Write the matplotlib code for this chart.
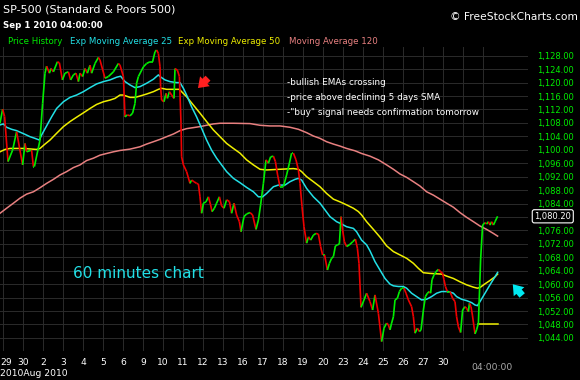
import matplotlib.pyplot as plt
import numpy as np
from matplotlib.collections import LineCollection
from matplotlib.transforms import ScaledTranslation

# hourly S&P 500, x = trading day index (0 = Jul 29)
price_day = [-0.15, -0.02, 0.08, 0.25, 0.48, 0.68, 0.98, 1.10, 1.18, 1.43, 1.52, 1.57, 1.85, 1.98,
             2.10, 2.18, 2.32, 2.40, 2.52, 2.72, 2.82, 2.97, 3.10, 3.27, 3.38, 3.52, 3.65, 3.77,
             3.85, 3.98, 4.10, 4.22, 4.35, 4.43, 4.60, 4.77, 4.85, 5.10, 5.27, 5.52, 5.77, 5.85,
             6.02, 6.10, 6.22, 6.35, 6.48, 6.60, 6.68, 6.77, 7.02, 7.18, 7.35, 7.48, 7.60, 7.68,
             7.77, 7.85, 7.88, 7.93, 8.05, 8.15, 8.22, 8.32, 8.43, 8.55, 8.60, 8.72, 8.82, 8.90,
             8.93, 9.02, 9.18, 9.35, 9.43, 9.55, 9.68, 9.77, 9.85, 9.93, 10.02, 10.15, 10.27,
             10.38, 10.45, 10.57, 10.68, 10.82, 10.93, 11.05, 11.18, 11.32, 11.43, 11.55, 11.68,
             11.82, 11.90, 12.05, 12.18, 12.35, 12.48, 12.65, 12.77, 12.88, 13.02, 13.15, 13.27,
             13.38, 13.52, 13.62, 13.73, 13.85, 14.02, 14.18, 14.32, 14.43, 14.52, 14.65, 14.77,
             14.85, 14.95, 15.05, 15.18, 15.28, 15.38, 15.52, 15.65, 15.77, 15.88, 15.98, 16.08,
             16.22, 16.32, 16.43, 16.52, 16.62, 16.73, 16.82, 16.90, 16.98, 17.07, 17.18, 17.32,
             17.48, 17.62, 17.72, 17.80, 17.90, 18.05, 18.18, 18.35, 18.48, 18.60, 18.77, 18.93,
             19.05, 19.18, 19.27, 19.35, 19.43, 19.52, 19.60, 19.72, 19.82, 19.93, 20.05, 20.15,
             20.27, 20.43, 20.52, 20.60, 20.72, 20.82, 20.90, 21.02, 21.12, 21.22, 21.32, 21.38,
             21.45, 21.55, 21.65, 21.77, 21.88, 21.98, 22.05, 22.12, 22.22, 22.35, 22.48, 22.60,
             22.68, 22.77, 22.88, 22.98, 23.10, 23.18, 23.27, 23.32, 23.40, 23.47, 23.60, 23.68,
             23.77, 23.88, 23.98, 24.10, 24.18, 24.27, 24.35, 24.43, 24.52, 24.60, 24.73]
price = [1107.9, 1112.1, 1109.9, 1096.5, 1099.9, 1105.4, 1095.5, 1101.9, 1099.4, 1099.9, 1095.0, 1095.0, 1102.9, 1113.8,
         1122.8, 1124.9, 1122.8, 1124.2, 1123.2, 1126.2, 1125.9, 1120.8, 1122.8, 1123.2, 1120.8, 1122.3, 1122.8, 1120.3,
         1122.8, 1121.8, 1124.2, 1122.8, 1125.2, 1122.8, 1125.7, 1127.5, 1126.7, 1121.3, 1121.8, 1123.2, 1125.7, 1125.2,
         1121.8, 1109.8, 1110.4, 1110.1, 1110.9, 1113.8, 1119.8, 1121.8, 1124.7, 1125.7, 1126.2, 1126.2, 1129.2, 1129.7,
         1128.7, 1124.7, 1118.8, 1114.8, 1114.3, 1116.8, 1115.3, 1117.3, 1116.3, 1115.3, 1124.2, 1123.7, 1121.8, 1107.9,
         1097.9, 1095.5, 1093.5, 1090.0, 1091.0, 1090.5, 1090.0, 1089.8, 1086.0, 1081.1, 1084.1, 1084.5, 1086.0,
         1083.6, 1081.6, 1082.6, 1084.1, 1086.0, 1083.3, 1082.6, 1085.1, 1084.6, 1081.1, 1084.1, 1080.6,
         1078.6, 1075.6, 1080.1, 1080.9, 1081.3, 1080.6, 1076.3, 1079.1, 1083.6, 1090.0, 1097.0, 1096.0,
         1097.9, 1098.1, 1096.5, 1092.5, 1089.0, 1089.0, 1092.5, 1096.0, 1099.0, 1099.0, 1097.0, 1094.0,
         1090.0, 1083.1, 1077.1, 1072.2, 1074.1, 1073.1, 1074.6, 1075.1, 1074.9, 1071.2, 1068.7, 1068.7,
         1064.2, 1066.2, 1067.7, 1068.2, 1071.4, 1071.7, 1072.0, 1080.1, 1076.1, 1072.6, 1071.2, 1071.7,
         1072.6, 1073.4, 1070.7, 1066.2, 1053.1, 1055.3, 1057.3, 1054.8, 1052.3, 1056.8, 1051.3, 1042.9,
         1046.9, 1048.4, 1047.9, 1046.4, 1048.4, 1050.3, 1055.3, 1055.8, 1057.8, 1058.8, 1058.8, 1057.3,
         1055.3, 1053.3, 1050.3, 1045.4, 1046.9, 1045.9, 1046.4, 1052.3, 1056.3, 1057.3, 1057.8, 1057.3,
         1061.3, 1062.7, 1063.7, 1064.4, 1063.7, 1063.2, 1061.3, 1059.3, 1057.8, 1057.8, 1055.8, 1054.8,
         1050.3, 1047.3, 1045.6, 1052.3, 1053.3, 1052.8, 1051.8, 1054.3, 1053.3, 1050.8, 1045.2, 1046.4,
         1048.4, 1067.2, 1077.6, 1078.3, 1077.9, 1078.6, 1077.6, 1078.6, 1077.6, 1078.6, 1080.2]

ema25_day = [-0.15, 0.02, 0.18, 0.43, 0.68, 1.10, 1.35, 1.60, 1.82, 1.93, 2.18, 2.43, 2.68, 3.02, 3.35,
             3.68, 4.02, 4.35, 4.68, 5.02, 5.35, 5.68, 5.88, 6.10, 6.35, 6.60, 6.85, 7.18, 7.52, 7.77,
             7.85, 8.10, 8.35, 8.68, 8.85, 9.02, 9.18, 9.43, 9.68, 9.93, 10.18, 10.43, 10.68, 10.93,
             11.18, 11.52, 11.85, 12.18, 12.52, 12.77, 12.98, 13.18, 13.52, 13.77, 14.10, 14.35, 14.60,
             14.77, 14.93, 15.18, 15.52, 15.85, 16.10, 16.35, 16.68, 16.93, 17.18, 17.52, 17.68, 17.93,
             18.18, 18.35, 18.60, 18.85, 19.10, 19.35, 19.52, 19.77, 20.02, 20.18, 20.43, 20.68, 20.93,
             21.18, 21.43, 21.68, 21.93, 22.27, 22.52, 22.68, 22.93, 23.18, 23.43, 23.60, 23.72, 23.85,
             24.10, 24.35, 24.60, 24.73]
ema25 = [1107.4, 1107.7, 1106.7, 1106.1, 1105.7, 1104.6, 1103.9, 1103.4, 1102.9, 1104.4, 1107.1, 1109.8, 1112.3, 1114.3, 1115.6,
         1116.3, 1117.3, 1118.5, 1119.6, 1120.3, 1120.8, 1121.6, 1121.9, 1120.3, 1119.3, 1118.5, 1118.8, 1119.8, 1121.0, 1122.3,
         1121.8, 1120.8, 1120.3, 1120.0, 1120.0, 1118.3, 1116.3, 1112.8, 1109.8, 1106.4, 1102.9, 1099.9, 1097.5, 1095.5,
         1093.5, 1091.5, 1090.2, 1088.8, 1087.5, 1086.0, 1086.0, 1087.0, 1089.0, 1089.5, 1089.5, 1090.5, 1091.2,
         1091.5, 1091.0, 1088.5, 1086.0, 1084.1, 1082.1, 1080.1, 1078.6, 1077.9, 1077.1, 1076.6, 1075.6, 1073.1,
         1071.7, 1069.9, 1066.7, 1064.2, 1061.7, 1060.0, 1059.5, 1059.3, 1059.3, 1058.8, 1057.3, 1056.3, 1055.3,
         1055.5, 1056.3, 1057.3, 1057.8, 1057.8, 1057.3, 1056.3, 1055.5, 1055.1, 1054.5, 1053.8, 1053.6, 1054.8,
         1057.3, 1059.8, 1062.2, 1063.5]

ema50_day = [-0.15, 0.10, 0.35, 1.02, 1.68, 1.85, 2.10, 2.35, 2.68, 3.02, 3.35, 3.68, 4.02, 4.35, 4.68,
             5.02, 5.35, 5.60, 5.85, 6.02, 6.35, 6.60, 6.85, 7.18, 7.52, 7.77, 7.93, 8.18, 8.52, 8.82,
             8.93, 9.18, 9.52, 9.85, 10.18, 10.52, 10.85, 11.18, 11.52, 11.85, 12.18, 12.52, 12.85,
             13.18, 13.85, 14.52, 14.77, 14.93, 15.18, 15.52, 15.85, 16.18, 16.52, 16.85, 17.18, 17.52,
             17.77, 17.93, 18.18, 18.52, 18.85, 19.18, 19.52, 19.85, 20.18, 20.52, 20.77, 21.02, 21.35,
             21.93, 22.18, 22.52, 22.85, 23.18, 23.52, 23.72, 23.85, 24.10, 24.35, 24.60, 24.73]
ema50 = [1099.4, 1100.1, 1100.4, 1100.4, 1100.1, 1100.4, 1101.7, 1102.9, 1104.9, 1106.9, 1108.4, 1109.7, 1111.0, 1112.3, 1113.5,
         1114.3, 1114.8, 1115.3, 1116.3, 1116.3, 1115.6, 1115.6, 1116.0, 1116.6, 1117.3, 1118.0, 1118.3, 1118.0, 1118.0, 1118.0,
         1117.3, 1115.8, 1113.3, 1110.9, 1108.4, 1105.9, 1103.9, 1101.9, 1100.4, 1099.0, 1097.0, 1095.5, 1094.2,
         1094.0, 1094.2, 1094.4, 1094.2, 1093.5, 1092.0, 1090.5, 1089.0, 1087.0, 1085.3, 1084.5, 1083.6, 1082.6,
         1081.6, 1080.6, 1078.6, 1076.3, 1074.0, 1071.4, 1069.7, 1068.7, 1067.7, 1066.2, 1064.7, 1063.4, 1063.2,
         1063.0, 1062.4, 1061.7, 1060.7, 1059.8, 1059.1, 1058.8, 1059.0, 1060.1, 1061.1, 1062.2, 1063.0]

ma120_day = [-0.15, 0.18, 0.52, 0.85, 1.18, 1.52, 1.85, 2.18, 2.52, 2.85, 3.18, 3.52, 3.85, 4.18, 4.52,
             4.85, 5.18, 5.52, 5.85, 6.35, 6.85, 7.18, 7.52, 7.85, 8.18, 8.52, 8.85, 9.18, 9.52, 9.85,
             10.18, 10.52, 10.85, 11.52, 12.35, 12.85, 13.35, 13.85, 14.35, 14.77, 15.18, 15.52, 15.85,
             16.18, 16.52, 16.85, 17.18, 17.60, 17.93, 18.35, 18.77, 19.18, 19.52, 19.85, 20.18, 20.52,
             20.85, 21.18, 21.52, 21.85, 22.18, 22.52, 22.85, 23.18, 23.52, 23.85, 24.18, 24.52, 24.73]
ma120 = [1081.1, 1082.6, 1084.1, 1085.6, 1086.8, 1087.5, 1088.7, 1090.0, 1091.2, 1092.5, 1093.5, 1094.7, 1095.5, 1096.8, 1097.5,
         1098.4, 1098.9, 1099.4, 1099.8, 1100.2, 1100.9, 1101.7, 1102.4, 1103.1, 1103.9, 1104.7, 1105.7, 1106.3, 1106.6, 1106.9,
         1107.3, 1107.7, 1107.9, 1107.9, 1107.8, 1107.3, 1107.1, 1107.1, 1106.7, 1106.1, 1105.1, 1104.1, 1103.4,
         1102.4, 1101.7, 1101.1, 1100.4, 1099.7, 1098.9, 1098.1, 1097.0, 1095.5, 1094.2, 1092.8, 1091.8, 1090.5,
         1089.2, 1087.5, 1086.5, 1085.3, 1084.1, 1082.9, 1081.3, 1079.9, 1078.6, 1077.3, 1076.3, 1075.1, 1074.3]

# short yellow level at the end
level_day = [23.75, 24.73]
level = [1048.2, 1048.2]

day_labels = ['29', '30', '2', '3', '4', '5', '6', '9', '10', '11', '12', '13', '16', '17', '18',
              '19', '20', '23', '24', '25', '26', '27', '30', '', '']
y_ticks = np.arange(1044, 1129, 4)
last_price = 1080.20

GREEN = '#00ee00'
RED = '#ee0000'
CYAN = '#22e0e6'
YELLOW = '#eeee00'
PINK = '#e88080'
BG = 'black'

fig = plt.figure(figsize=(5.8, 3.8), dpi=100, facecolor=BG)
ax = fig.add_axes([0, 1 - 351 / 380, 528 / 580, 304 / 380])
ax.set_facecolor(BG)

ax.plot(ma120_day, ma120, color=PINK, lw=1.1)
ax.plot(ema50_day, ema50, color=YELLOW, lw=1.1)
ax.plot(ema25_day, ema25, color=CYAN, lw=1.1)
ax.plot(level_day, level, color=YELLOW, lw=1.1)

pts = np.column_stack([price_day, price])
segs = np.stack([pts[:-1], pts[1:]], axis=1)
cols = [GREEN if b >= a else RED for a, b in zip(price[:-1], price[1:])]
ax.add_collection(LineCollection(segs, colors=cols, linewidths=1.2))

ax.set_xlim(-0.15, 26.25)
ax.set_ylim(1040.1, 1130.6)
ax.set_xticks(np.arange(len(day_labels)))
ax.set_xticklabels(day_labels)
ax.set_yticks(y_ticks)
# the last-price box hides the 1,080.00 label
ax.set_yticklabels(['' if abs(v - last_price) < 2 else f'{v:,.2f}' for v in y_ticks])
ax.yaxis.tick_right()
ax.tick_params(axis='x', length=0, pad=5, colors='white', labelsize=6.6)
ax.tick_params(axis='y', length=0, pad=6.5, colors=GREEN, labelsize=6)
ax.grid(True, color='#2b2b2b', lw=0.7)
ax.set_axisbelow(True)
for s in ax.spines.values():
    s.set_visible(False)

# first day label sits right at the left edge
first = ax.get_xticklabels()[0]
first.set_transform(first.get_transform() + ScaledTranslation(3 / 100, 0, fig.dpi_scale_trans))

# last price box
ax.text(1.012, last_price, f'{last_price:,.2f}', transform=ax.get_yaxis_transform(), color='white',
        fontsize=6, va='center', ha='left',
        bbox=dict(boxstyle='round,pad=0.25', fc='black', ec='white', lw=0.8))

# notes
notes = ['-bullish EMAs crossing', '-price above declining 5 days SMA',
         '-"buy" signal needs confirmation tomorrow']
for i, t in enumerate(notes):
    ax.text(14.2, 1119.9 - i * 4.4, t, color='white', fontsize=6.4, va='center')
ax.text(3.5, 1063.3, '60 minutes chart', color=CYAN, fontsize=11, va='center')

ax.annotate('', xy=(9.65, 1117.8), xytext=(10.35, 1121.9),
            arrowprops=dict(arrowstyle='simple,head_length=0.7,head_width=1.0,tail_width=0.5',
                            color='#ff2020', lw=0), annotation_clip=False)
ax.annotate('', xy=(25.4, 1060.6), xytext=(26.05, 1056.0),
            arrowprops=dict(arrowstyle='simple,head_length=0.7,head_width=1.0,tail_width=0.5',
                            color='#00e8f0', lw=0), annotation_clip=False)

# header
fig.text(3 / 580, 1 - 9 / 380, 'SP-500 (Standard & Poors 500)', color='white', fontsize=8, va='center')
fig.text(3 / 580, 1 - 25 / 380, 'Sep 1 2010 04:00:00', color='white', fontsize=6.2,
         fontweight='bold', va='center')
fig.text(578 / 580, 1 - 17 / 380, '\u00a9 FreeStockCharts.com', color='white', fontsize=7.7,
         va='center', ha='right')
legend = [('Price History', GREEN, 8), ('Exp Moving Average 25', CYAN, 70),
          ('Exp Moving Average 50', YELLOW, 178), ('Moving Average 120', PINK, 289)]
for name, c, x in legend:
    fig.text(x / 580, 1 - 42 / 380, name, color=c, fontsize=6.2, va='center')

fig.text(0, 1 - 374 / 380, '2010Aug 2010', color='white', fontsize=6.6, va='center')
fig.text(492 / 580, 1 - 367 / 380, '04:00:00', color='#aaaaaa', fontsize=6.6, va='center', ha='center')

fig.savefig('out.png', dpi=100, facecolor=BG)
